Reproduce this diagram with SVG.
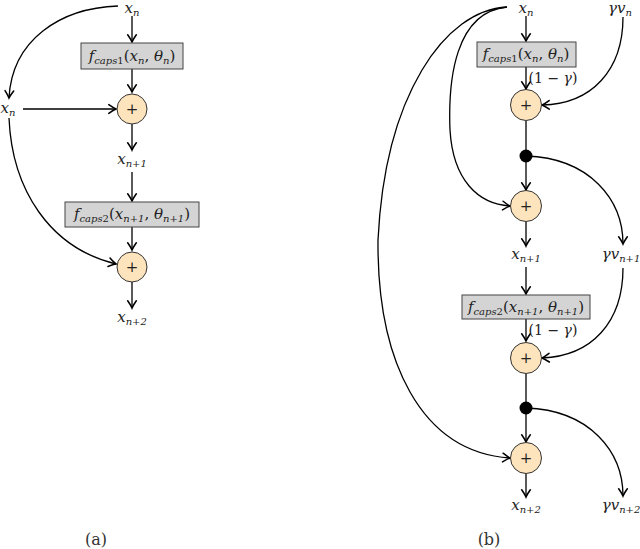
<svg xmlns="http://www.w3.org/2000/svg" width="640" height="549" viewBox="0 0 640 549">
<style>
.t{font-family:"DejaVu Serif",serif;font-size:15px;fill:#222}
.i{font-style:italic}
.s{font-size:10px;font-style:italic}
.w{font-size:14px}
.c{fill:#fde4bc;stroke:#333;stroke-width:1}
.b{fill:#d4d4d4;stroke:#444;stroke-width:1}
.l{fill:none;stroke:#000;stroke-width:1.3}
.a{marker-end:url(#ah)}
.p{font-size:16px;fill:#333}
</style>
<defs>
<marker id="ah" markerUnits="userSpaceOnUse" markerWidth="12" markerHeight="12" viewBox="-8 -5 10 10" refX="0" refY="0" orient="auto">
<path d="M-6,-3.6 Q-2,-0.8 0,0 Q-2,0.8 -6,3.6" fill="none" stroke="#000" stroke-width="1.3" stroke-linecap="round"/>
</marker>
</defs>
<g id="connectors">
<path class="l a" d="M132,16 V42"/>
<path class="l a" d="M132,69 V92"/>
<path class="l a" d="M23,109 H116"/>
<path class="l a" d="M118,6 C60,8 12,40 9,98"/>
<path class="l a" d="M132,124 V150"/>
<path class="l a" d="M132,172 V201"/>
<path class="l a" d="M132,227 V250"/>
<path class="l a" d="M9,118 C12,190 50,248 116,264"/>
<path class="l a" d="M132,282 V308"/>
<path class="l a" d="M526,16 V41"/>
<path class="l a" d="M526,67 V89"/>
<path class="l a" d="M623,17 C623,70 592,104 542,105"/>
<path class="l" d="M526,121 V156"/>
<path class="l a" d="M526,156 V190"/>
<path class="l a" d="M507,7 C455,12 448,80 450,130 C453,180 478,204 510,206"/>
<path class="l a" d="M507,7 C445,10 385,95 378,240 C377,360 420,452 510,458"/>
<path class="l a" d="M526,156 C590,158 623,200 623,244"/>
<path class="l a" d="M526,222 V246"/>
<path class="l a" d="M526,267 V294"/>
<path class="l a" d="M526,319 V341"/>
<path class="l a" d="M623,268 C623,322 592,356 542,358"/>
<path class="l" d="M526,374 V408"/>
<path class="l a" d="M526,408 V442"/>
<path class="l a" d="M526,408 C590,410 623,452 623,496"/>
<path class="l a" d="M526,474 V497"/>
</g>
<g id="a_xn_top"><text class="t" x="132" y="13" text-anchor="middle"><tspan class="i">x</tspan><tspan class="s" dy="3">n</tspan></text></g>
<g id="a_f1">
<rect class="b" x="81" y="43" width="102" height="26"/>
<text class="t" x="132" y="61" text-anchor="middle"><tspan class="i">f</tspan><tspan class="s" dy="3">caps</tspan><tspan font-size="10">1</tspan><tspan dy="-3">(</tspan><tspan class="i">x</tspan><tspan class="s" dy="3">n</tspan><tspan dy="-3">, </tspan><tspan class="i">θ</tspan><tspan class="s" dy="3">n</tspan><tspan dy="-3">)</tspan></text>
</g>
<g id="a_xn_left"><text class="t" x="8" y="113" text-anchor="middle"><tspan class="i">x</tspan><tspan class="s" dy="3">n</tspan></text></g>
<g id="a_add1"><circle class="c" cx="132" cy="109" r="15"/><text class="t" x="132" y="114" text-anchor="middle">+</text></g>
<g id="a_xn1"><text class="t" x="132" y="164" text-anchor="middle"><tspan class="i">x</tspan><tspan class="s" dy="3">n+1</tspan></text></g>
<g id="a_f2">
<rect class="b" x="65" y="202" width="134" height="25"/>
<text class="t" x="132" y="219" text-anchor="middle"><tspan class="i">f</tspan><tspan class="s" dy="3">caps</tspan><tspan font-size="10">2</tspan><tspan dy="-3">(</tspan><tspan class="i">x</tspan><tspan class="s" dy="3">n+1</tspan><tspan dy="-3">, </tspan><tspan class="i">θ</tspan><tspan class="s" dy="3">n+1</tspan><tspan dy="-3">)</tspan></text>
</g>
<g id="a_add2"><circle class="c" cx="132" cy="267" r="15"/><text class="t" x="132" y="272" text-anchor="middle">+</text></g>
<g id="a_xn2"><text class="t" x="132" y="322" text-anchor="middle"><tspan class="i">x</tspan><tspan class="s" dy="3">n+2</tspan></text></g>
<g id="a_label"><text class="t p" x="96" y="545" text-anchor="middle">(a)</text></g>
<g id="b_xn"><text class="t" x="526" y="13" text-anchor="middle"><tspan class="i">x</tspan><tspan class="s" dy="3">n</tspan></text></g>
<g id="b_gvn"><text class="t" x="620" y="13" text-anchor="middle"><tspan class="i">γv</tspan><tspan class="s" dy="3">n</tspan></text></g>
<g id="b_f1">
<rect class="b" x="477" y="42" width="99" height="25"/>
<text class="t" x="526" y="59" text-anchor="middle"><tspan class="i">f</tspan><tspan class="s" dy="3">caps</tspan><tspan font-size="10">1</tspan><tspan dy="-3">(</tspan><tspan class="i">x</tspan><tspan class="s" dy="3">n</tspan><tspan dy="-3">, </tspan><tspan class="i">θ</tspan><tspan class="s" dy="3">n</tspan><tspan dy="-3">)</tspan></text>
</g>
<g id="b_w1"><text class="t w" x="553" y="83" text-anchor="middle">(1 − <tspan class="i">γ</tspan>)</text></g>
<g id="b_add1"><circle class="c" cx="526" cy="105" r="15.5"/><text class="t" x="526" y="110" text-anchor="middle">+</text></g>
<g id="b_dot1"><circle cx="526" cy="156" r="6.5" fill="#000"/></g>
<g id="b_add2"><circle class="c" cx="526" cy="206" r="15.5"/><text class="t" x="526" y="211" text-anchor="middle">+</text></g>
<g id="b_xn1"><text class="t" x="526" y="259" text-anchor="middle"><tspan class="i">x</tspan><tspan class="s" dy="3">n+1</tspan></text></g>
<g id="b_gvn1"><text class="t" x="621" y="259" text-anchor="middle"><tspan class="i">γv</tspan><tspan class="s" dy="3">n+1</tspan></text></g>
<g id="b_f2">
<rect class="b" x="462" y="295" width="128" height="24"/>
<text class="t" x="526" y="312" text-anchor="middle"><tspan class="i">f</tspan><tspan class="s" dy="3">caps</tspan><tspan font-size="10">2</tspan><tspan dy="-3">(</tspan><tspan class="i">x</tspan><tspan class="s" dy="3">n+1</tspan><tspan dy="-3">, </tspan><tspan class="i">θ</tspan><tspan class="s" dy="3">n+1</tspan><tspan dy="-3">)</tspan></text>
</g>
<g id="b_w2"><text class="t w" x="553" y="335" text-anchor="middle">(1 − <tspan class="i">γ</tspan>)</text></g>
<g id="b_add3"><circle class="c" cx="526" cy="358" r="15.5"/><text class="t" x="526" y="363" text-anchor="middle">+</text></g>
<g id="b_dot2"><circle cx="526" cy="408" r="6.5" fill="#000"/></g>
<g id="b_add4"><circle class="c" cx="526" cy="458" r="15.5"/><text class="t" x="526" y="463" text-anchor="middle">+</text></g>
<g id="b_xn2"><text class="t" x="526" y="510" text-anchor="middle"><tspan class="i">x</tspan><tspan class="s" dy="3">n+2</tspan></text></g>
<g id="b_gvn2"><text class="t" x="621" y="510" text-anchor="middle"><tspan class="i">γv</tspan><tspan class="s" dy="3">n+2</tspan></text></g>
<g id="b_label"><text class="t p" x="489" y="545" text-anchor="middle">(b)</text></g>
</svg>
